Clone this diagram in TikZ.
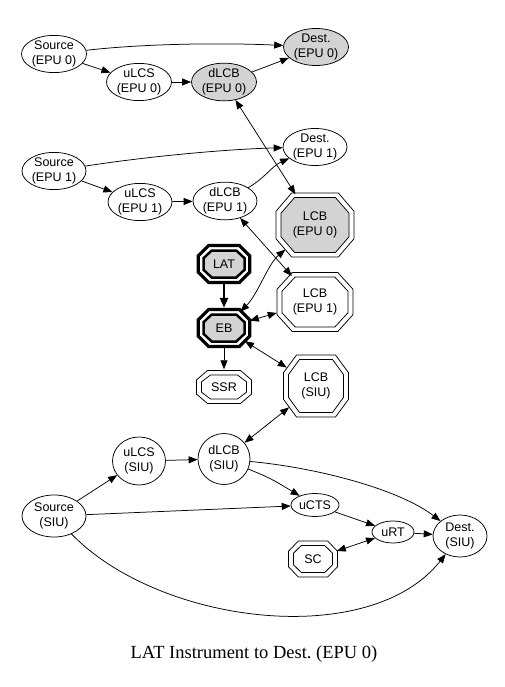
\documentclass[tikz,border=0pt]{standalone}
\usepackage{fontspec}
\setmainfont{Liberation Serif}
\newfontfamily\helv{Liberation Sans}
\usetikzlibrary{arrows.meta,shapes.geometric,calc}
\definecolor{lg}{RGB}{211,211,211}
\frenchspacing
% octagon: [options]{cx}{cy}{half width}{half height}
\newcommand{\octdraw}[5][]{%
  \path[#1] ({#2+(#4)},{#3+0.43*(#5)}) -- ({#2+0.6*(#4)},{#3+(#5)}) -- ({#2-0.6*(#4)},{#3+(#5)}) -- ({#2-(#4)},{#3+0.43*(#5)}) -- ({#2-(#4)},{#3-0.43*(#5)}) -- ({#2-0.6*(#4)},{#3-(#5)}) -- ({#2+0.6*(#4)},{#3-(#5)}) -- ({#2+(#4)},{#3-0.43*(#5)}) -- cycle;}
\begin{document}
\begin{tikzpicture}[x=1pt,y=-1pt,
  every node/.style={font=\helv\fontsize{12.5}{15}\selectfont, align=center, inner sep=0pt},
  ell/.style={ellipse, draw, line width=0.75pt},
  gr/.style={fill=lg},
  oct/.style={ellipse, draw=none},
  tip/.tip={Triangle[length=9pt,width=7pt]},
  e/.style={draw, line width=0.75pt, -tip},
  ee/.style={draw, line width=0.75pt, tip-tip},
  thinoct/.style={draw, line width=0.75pt},
  boldoct/.style={draw, line width=3.2pt, line join=miter},
  boldin/.style={draw, line width=2.5pt, fill=lg, line join=miter}]
\useasboundingbox (0,0) rectangle (505,687);
% ---- octagon outlines ----
\octdraw[thinoct]{315}{225}{39}{32}
\octdraw[thinoct,fill=lg]{315}{225}{34}{27.5}
\octdraw[boldoct]{224}{264}{25.8}{18.5}
\octdraw[boldin]{224}{264}{20.5}{13.5}
\octdraw[boldoct]{224}{328}{25.8}{18.5}
\octdraw[boldin]{224}{328}{20.5}{13.5}
\octdraw[thinoct]{315}{302}{38}{29.5}
\octdraw[thinoct]{315}{302}{33}{25}
\octdraw[thinoct]{224}{387}{27.5}{16.5}
\octdraw[thinoct]{224}{387}{22.5}{12}
\octdraw[thinoct]{316}{386}{32.5}{31}
\octdraw[thinoct]{316}{386}{27.5}{26.5}
\octdraw[thinoct]{313}{559}{24.5}{18}
\octdraw[thinoct]{313}{559}{19.5}{13.5}
% ---- nodes ----
\node[ell, minimum width=65pt, minimum height=34pt] (src0) at (54,54) {Source\\(EPU 0)};
\node[ell, gr, minimum width=65pt, minimum height=35pt] (dst0) at (316,47) {Dest.\\(EPU 0)};
\node[ell, minimum width=65pt, minimum height=34pt] (ulcs0) at (139,82) {uLCS\\(EPU 0)};
\node[ell, gr, minimum width=65pt, minimum height=35pt] (dlcb0) at (224,82) {dLCB\\(EPU 0)};
\node[ell, minimum width=64pt, minimum height=35pt] (src1) at (54,171) {Source\\(EPU 1)};
\node[ell, minimum width=64pt, minimum height=35pt] (dst1) at (315,147) {Dest.\\(EPU 1)};
\node[ell, minimum width=64pt, minimum height=35pt] (ulcs1) at (140,202) {uLCS\\(EPU 1)};
\node[ell, minimum width=64pt, minimum height=36pt] (dlcb1) at (225,201) {dLCB\\(EPU 1)};
\node[oct, minimum width=84pt, minimum height=69pt] (lcb0) at (315,225) {LCB\\(EPU 0)};
\node[oct, minimum width=55pt, minimum height=40pt] (lat) at (224,264) {LAT};
\node[oct, minimum width=55pt, minimum height=40pt] (eb) at (224,328) {EB};
\node[oct, minimum width=81pt, minimum height=63pt] (lcb1) at (315,302) {LCB\\(EPU 1)};
\node[oct, minimum width=58pt, minimum height=35pt] (ssr) at (224,387) {SSR};
\node[oct, minimum width=70pt, minimum height=66pt] (lcbsiu) at (316,386) {LCB\\(SIU)};
\node[ell, minimum width=53pt, minimum height=48pt] (ulcssiu) at (139,461) {uLCS\\(SIU)};
\node[ell, minimum width=52pt, minimum height=51pt] (dlcbsiu) at (224,459) {dLCB\\(SIU)};
\node[ell, minimum width=64pt, minimum height=42pt] (srcsiu) at (54,516) {Source\\(SIU)};
\node[ell, minimum width=48pt, minimum height=23pt] (ucts) at (315,505) {uCTS};
\node[ell, minimum width=42pt, minimum height=22pt] (urt) at (393,532) {uRT};
\node[ell, minimum width=54pt, minimum height=42pt] (dstsiu) at (460,536) {Dest.\\(SIU)};
\node[oct, minimum width=52pt, minimum height=38pt] (sc) at (313,559) {SC};
\node[font=\fontsize{18.5}{20}\selectfont, anchor=base] (cap) at (254,658) {LAT Instrument to Dest. (EPU 0)};
% ---- edges ----
\path[e] (src0) .. controls (150,43) and (230,43) .. (dst0);
\path[e] (src0) -- (ulcs0);
\path[e] (ulcs0) -- (dlcb0);
\path[e] (dlcb0) .. controls (266,67) .. (dst0);
\path[ee] (dlcb0) -- (lcb0);
\path[e] (src1) .. controls (150,156) and (230,149) .. (dst1);
\path[e] (src1) -- (ulcs1);
\path[e] (ulcs1) -- (dlcb1);
\path[e] (dlcb1) .. controls (265,178) and (272,166) .. (dst1);
\path[ee] (dlcb1) -- (lcb1);
\path[ee] (lcb0) .. controls (268,264) and (258,294) .. (eb);
\path[draw, line width=2.2pt, -{Triangle[length=10pt,width=8pt]}] (lat) -- (eb);
\path[ee] (eb) -- (lcb1);
\path[e] (eb) -- (ssr);
\path[ee] (eb) -- (lcbsiu);
\path[ee] (lcbsiu) -- (dlcbsiu);
\path[e] (srcsiu) -- (ulcssiu);
\path[e] (ulcssiu) -- (dlcbsiu);
\path[e] (dlcbsiu) .. controls (270,478) .. (ucts);
\path[e] (dlcbsiu) .. controls (320,468) and (400,490) .. (dstsiu);
\path[e] (srcsiu) -- (ucts);
\path[e] (ucts) -- (urt);
\path[e] (urt) -- (dstsiu);
\path[ee] (sc) -- (urt);
\path[e] (srcsiu) .. controls (160,625) and (370,650) .. (dstsiu);
\end{tikzpicture}
\end{document}
